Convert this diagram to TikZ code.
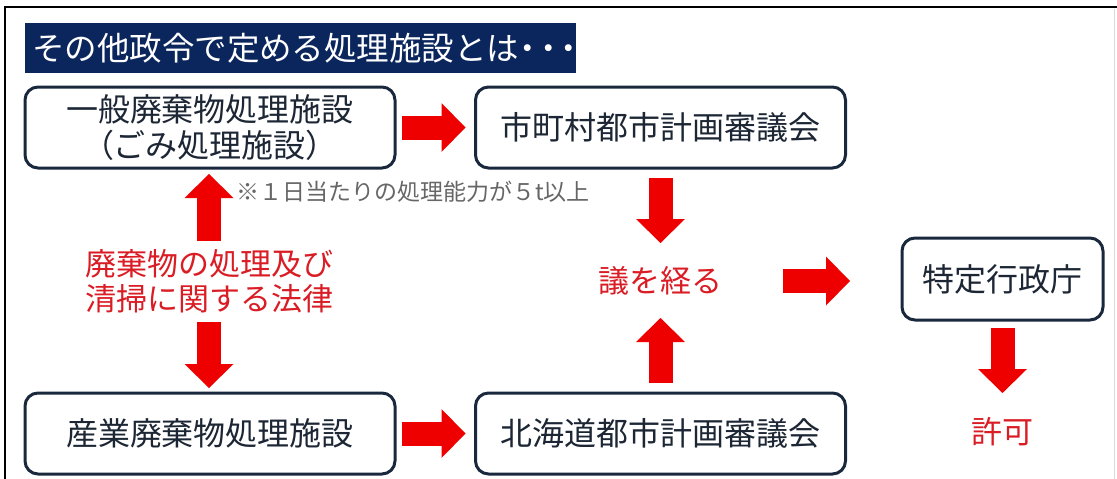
\documentclass[tikz,border=0pt]{standalone}
\usepackage{fontspec}
\setmainfont{Noto Sans CJK JP}
\usepackage{xcolor}
\usepackage{tikz}
\usetikzlibrary{arrows.meta}
\definecolor{navyband}{RGB}{10,38,92}
\definecolor{boxline}{RGB}{26,40,62}
\definecolor{boxtext}{RGB}{28,38,52}
\definecolor{arrowred}{RGB}{238,0,0}
\definecolor{lawred}{RGB}{218,28,36}
\tikzstyle{every node}=[inner sep=0pt,outer sep=0pt]
\tikzstyle{titlebar}=[fill=navyband,text=white,font=\fontsize{32.5}{34}\selectfont,minimum width=551pt,minimum height=50pt,text width=537pt,align=left]
\tikzstyle{facility}=[draw=boxline,line width=3pt,rounded corners=13pt,fill=white,text=boxtext,font=\fontsize{32}{36}\selectfont,align=center,minimum width=370pt,minimum height=81pt]
\tikzstyle{lawtext}=[text=lawred,font=\fontsize{31}{35}\selectfont,align=center]
\tikzstyle{note}=[text=black!60,font=\fontsize{23}{26}\selectfont]
\tikzstyle{bigarrow}=[draw=arrowred,line width=24pt,-{Triangle[length=24pt,width=49pt,line width=0pt]}]

\begin{document}
\begin{tikzpicture}[x=1pt,y=-1pt]
	\useasboundingbox (0,0) rectangle (1117,479);
	\draw[line width=2pt] (5,479) -- (5,7) -- (1117,7);
	\draw[black!15,line width=1pt] (1114,9) -- (1114,479);
	\node[titlebar,anchor=west] (title) at (25,48) {その他政令で定める処理施設とは\kern-8pt・\kern-12pt・\kern-12pt・};
	\node[facility] (general) at (210,127.5) {一般廃棄物処理施設\\（ごみ処理施設）};
	\node[facility] (citycouncil) at (660.5,127.5) {市町村都市計画審議会};
	\node[facility] (industrial) at (210,433.5) {産業廃棄物処理施設};
	\node[facility] (hokkaido) at (660.5,433.5) {北海道都市計画審議会};
	\node[facility,minimum width=201pt,minimum height=82pt] (agency) at (1002.5,279) {特定行政庁};
	\node[lawtext,minimum height=80pt] (law) at (209,281) {廃棄物の処理及び\\清掃に関する法律};
	\node[lawtext,minimum width=240pt,minimum height=74pt] (review) at (660.5,281) {議を経る};
	\node[lawtext,minimum height=76pt] (permit) at (1002.5,432) {許可};
	\node[note,anchor=west] (capacity) at (236,192) {※１日当たりの処理能力が５t以上};
	\draw[bigarrow,shorten <=7pt,shorten >=10pt] (general) -- (citycouncil);
	\draw[bigarrow,shorten <=7pt,shorten >=10pt] (industrial) -- (hokkaido);
	\draw[bigarrow,shorten >=6pt] (law.north) -- (law.north |- general.south);
	\draw[bigarrow,shorten <=1pt,shorten >=5pt] (law.south) -- (law.south |- industrial.north);
	\draw[bigarrow,shorten <=10pt,shorten >=1pt] (citycouncil.south) -- (review.north);
	\draw[bigarrow,shorten <=10pt] (hokkaido.north) -- (review.south);
	\draw[bigarrow,shorten <=2.5pt,shorten >=52pt] (review.east) -- (review.east -| agency.west);
	\draw[bigarrow,shorten <=8pt,shorten >=1pt] (agency.south) -- (agency.south |- permit.north);
\end{tikzpicture}
\end{document}
